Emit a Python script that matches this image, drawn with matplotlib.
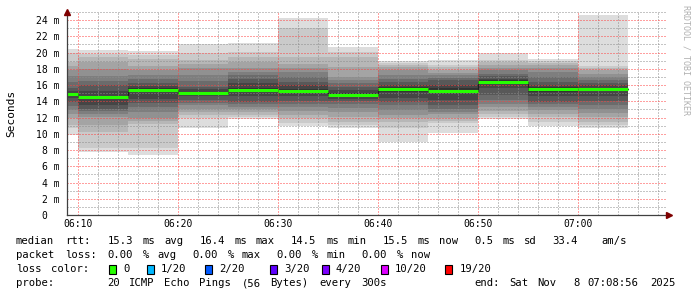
import re

import matplotlib
matplotlib.use("Agg")
import matplotlib.pyplot as plt
from matplotlib.patches import Rectangle
from matplotlib.ticker import MultipleLocator

W, H = 697, 297
MONO = "DejaVu Sans Mono"

# 5 minute steps, minutes after 06:00 (bin start)
bin_start = [5, 10, 15, 20, 25, 30, 35, 40, 45, 50, 55, 60]
bin_width = 5
x_start, x_end = 8 + 56 / 60, 68 + 56 / 60   # 06:08:56 .. 07:08:56

# 20 sorted ping times per step (ms), read from the smoke
p_0605 = [9.8, 10.7, 11.1, 12.0, 12.5, 12.9, 13.4, 13.9, 14.4, 14.8, 15.0, 15.3, 15.7, 16.4, 17.1, 17.8, 18.3, 18.8, 19.9, 20.4]
p_0610 = [7.8, 8.2, 10.2, 11.1, 12.1, 12.5, 12.8, 13.1, 13.6, 14.3, 14.7, 15.3, 16.0, 16.5, 17.1, 18.0, 18.9, 19.4, 19.8, 20.3]
p_0615 = [7.4, 8.2, 11.2, 11.6, 12.0, 12.7, 13.3, 13.8, 14.3, 15.2, 15.6, 15.9, 16.3, 16.7, 17.3, 17.9, 18.4, 19.2, 19.7, 20.2]
p_0620 = [10.7, 11.9, 12.3, 12.7, 13.1, 13.5, 13.8, 14.2, 14.6, 14.9, 15.1, 15.5, 15.8, 16.5, 17.3, 18.05, 18.6, 19.1, 19.9, 21.0]
p_0625 = [11.8, 12.1, 12.3, 12.7, 13.0, 13.3, 13.7, 13.9, 14.6, 15.2, 15.6, 16.2, 16.8, 17.3, 17.6, 18.05, 18.9, 19.5, 20.1, 21.2]
p_0630 = [10.9, 11.3, 11.9, 12.3, 12.8, 13.3, 13.7, 14.0, 14.6, 15.1, 15.5, 16.0, 16.4, 17.0, 17.6, 18.05, 18.6, 19.5, 23.0, 24.2]
p_0635 = [10.7, 11.1, 11.5, 12.1, 12.7, 13.2, 13.7, 14.0, 14.3, 14.6, 15.0, 15.4, 15.8, 16.2, 16.6, 17.0, 18.2, 19.5, 20.1, 20.7]
p_0640 = [9.0, 10.7, 11.5, 12.0, 12.3, 12.9, 13.5, 13.9, 14.4, 15.2, 15.8, 16.0, 16.4, 16.8, 17.2, 17.8, 18.2, 18.5, 18.7, 18.95]
p_0645 = [10.1, 11.3, 11.6, 11.9, 12.4, 12.7, 13.1, 13.5, 14.2, 15.0, 15.6, 16.0, 16.6, 16.9, 17.2, 17.5, 17.85, 18.2, 18.5, 19.1]
p_0650 = [11.8, 12.1, 12.5, 12.8, 13.3, 13.7, 14.2, 14.8, 15.6, 16.2, 16.6, 16.8, 17.1, 17.4, 17.9, 18.05, 18.5, 18.9, 19.1, 20.0]
p_0655 = [11.0, 11.5, 12.1, 12.5, 12.9, 13.3, 13.7, 13.9, 14.6, 15.2, 15.8, 16.0, 16.4, 17.0, 17.6, 18.05, 18.5, 18.7, 19.0, 19.2]
p_0700 = [10.75, 11.1, 11.5, 12.1, 12.6, 13.1, 13.6, 14.0, 14.6, 15.3, 15.7, 16.0, 16.3, 16.6, 17.0, 17.4, 17.8, 18.05, 18.3, 24.6]
pings = [p_0605, p_0610, p_0615, p_0620, p_0625, p_0630,
         p_0635, p_0640, p_0645, p_0650, p_0655, p_0700]

medians = [14.9, 14.5, 15.4, 15.0, 15.4, 15.3, 14.8, 15.5, 15.3, 16.4, 15.5, 15.5]

x_ticks = [10, 20, 30, 40, 50, 60]
x_labels = ["06:10", "06:20", "06:30", "06:40", "06:50", "07:00"]
y_ticks = [0, 2, 4, 6, 8, 10, 12, 14, 16, 18, 20, 22, 24]
y_labels = ["0  "] + [f"{v} m" for v in y_ticks[1:]]

loss_labels = ["0", "1/20", "2/20", "3/20", "4/20", "10/20", "19/20"]
loss_colors = ["#26ff00", "#00b8ff", "#0059ff", "#5e00ff", "#7e00ff", "#dd00ff", "#ff0000"]

line_rtt = "median rtt:  15.3 ms avg  16.4 ms max  14.5 ms min  15.5 ms now  0.5 ms sd  33.4   am/s"
line_loss = "packet loss: 0.00 % avg  0.00 % max  0.00 % min  0.00 % now"
probe_text = "20 ICMP Echo Pings (56 Bytes) every 300s"
end_text = "end: Sat Nov  8 07:08:56 2025"

fig = plt.figure(figsize=(W / 100, H / 100), dpi=100)
fig.patch.set_facecolor("white")
ax = fig.add_axes([67 / W, 1 - 215 / H, 600 / W, 203 / H])

# smoke: pair i with pair 21-i, outer light -> inner dark
half = 10
for b, p in zip(bin_start, pings):
    for i in range(half):
        g = int(190 / half * (half - (i + 1))) + 50
        ax.bar(b, p[19 - i] - p[i], bottom=p[i], width=bin_width, align="edge",
               color=f"#{g:02x}{g:02x}{g:02x}", linewidth=0, zorder=1)

# median: thin dark step + green segments
edges = bin_start + [bin_start[-1] + bin_width]
ax.step(edges, medians + [medians[-1]], where="post", color="#202020", lw=0.8, zorder=3)
for b, m in zip(bin_start, medians):
    ax.hlines(m, b, b + bin_width, color=loss_colors[0], lw=2.2, zorder=4)

ax.set_xlim(x_start, x_end)
ax.set_ylim(0, 25)
ax.set_xticks(x_ticks)
ax.set_xticklabels(x_labels)
ax.xaxis.set_minor_locator(MultipleLocator(2))
ax.set_yticks(y_ticks)
ax.set_yticklabels(y_labels)
ax.yaxis.set_minor_locator(MultipleLocator(1))

ax.set_axisbelow(False)
ax.grid(which="minor", color=(0.55, 0.55, 0.55, 0.3), lw=0.72, linestyle=(0, (1, 2)))
ax.grid(which="major", color=(1.0, 0.25, 0.25, 0.35), lw=0.72, linestyle=(0, (1, 2)))

ax.tick_params(which="both", length=0)
ax.tick_params(axis="x", pad=3, labelsize=7)
ax.tick_params(axis="y", pad=5.5, labelsize=7)
for lab in ax.get_xticklabels() + ax.get_yticklabels():
    lab.set_family(MONO)

for s in ["top", "right"]:
    ax.spines[s].set_visible(False)
for s in ["left", "bottom"]:
    ax.spines[s].set_color("#404040")
    ax.spines[s].set_linewidth(0.9)
    ax.spines[s].set_zorder(5)

# axis arrows
ax.plot([0], [1.0], marker="^", ms=4, color="#7f0000", transform=ax.transAxes, clip_on=False, zorder=6)
ax.plot([1.004], [0], marker=">", ms=4, color="#7f0000", transform=ax.transAxes, clip_on=False, zorder=6)

fig.text(11 / W, 1 - 113 / H, "Seconds", rotation=90, family=MONO, fontsize=8,
         ha="center", va="center")
fig.text(686 / W, 1 - 60 / H, "RRDTOOL / TOBI OETIKER", rotation=270, family=MONO,
         fontsize=6, color="#b0b0b0", ha="center", va="center")

CW = 7.05
X0 = 16


def mono_words(col, y, s):
    for m in re.finditer(r"\S+", s):
        fig.text((X0 + (col + m.start()) * CW) / W, 1 - y / H, m.group(),
                 family=MONO, fontsize=7.6, ha="left", va="center")


mono_words(0, 241, line_rtt)
mono_words(0, 255, line_loss)
mono_words(0, 269, "loss color:")
box_x = [109, 146.5, 204.5, 270, 321.5, 380.5, 445]
for bx, lab, col in zip(box_x, loss_labels, loss_colors):
    fig.patches.append(Rectangle((bx / W, 1 - 274 / H), 7 / W, 9 / H, transform=fig.transFigure,
                                 facecolor=col, edgecolor="black", lw=0.8))
    fig.text((bx + 14.5) / W, 1 - 269 / H, lab, family=MONO, fontsize=7.6, ha="left", va="center")
mono_words(0, 283, "probe:")
mono_words(13, 283, probe_text)
mono_words(65, 283, end_text)

fig.savefig("out.png", dpi=100)
